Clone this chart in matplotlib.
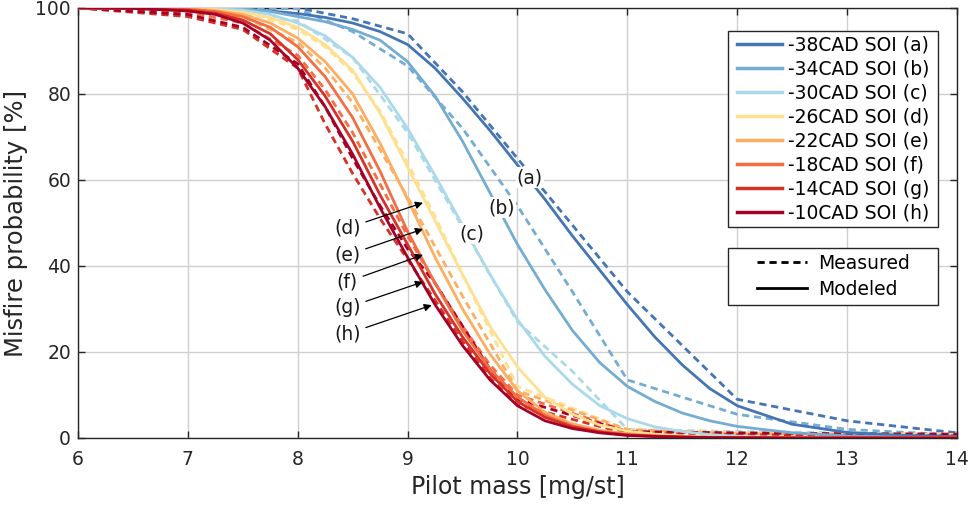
import matplotlib
matplotlib.use("Agg")
import matplotlib.pyplot as plt
from matplotlib.lines import Line2D
from matplotlib.patches import Rectangle

plt.rcParams['font.family'] = ['DejaVu Sans']

# ---------------- data ----------------
series_labels = ['-38CAD SOI (a)', '-34CAD SOI (b)', '-30CAD SOI (c)', '-26CAD SOI (d)',
                 '-22CAD SOI (e)', '-18CAD SOI (f)', '-14CAD SOI (g)', '-10CAD SOI (h)']
colors = ['#4575b4', '#74add1', '#abd9e9', '#fee090', '#fdae61', '#f46d43', '#d73027', '#a50026']

# modeled curves (solid)
model_mass = [6, 6.5, 7, 7.25, 7.5, 7.75, 8, 8.25, 8.5, 8.75, 9, 9.25, 9.5, 9.75, 10,
              10.25, 10.5, 10.75, 11, 11.25, 11.5, 11.75, 12, 12.5, 13, 13.5, 14]
model_a = [100, 100, 100, 99.9, 99.7, 99.3, 98.7, 97.8, 96.5, 94.5, 91.5, 86, 79, 71.5, 63.5,
           55.5, 47, 39, 31, 23.5, 17, 11.5, 7.5, 3.2, 1.3, 0.6, 0.3]
model_b = [100, 100, 100, 99.9, 99.8, 99.2, 98, 96.8, 95, 92.5, 87.5, 79.5, 69, 57, 45,
           34.5, 25, 17.5, 12, 8.5, 5.8, 4, 2.7, 1.2, 0.5, 0.2, 0.1]
model_c = [100, 100, 100, 99.8, 99.5, 98.5, 96.5, 93.5, 88.5, 81.5, 72, 61, 49.5, 38, 27.5,
           19, 12.5, 7.5, 4.5, 2.6, 1.5, 0.8, 0.4, 0.1, 0.02, 0, 0]
model_d = [100, 100, 99.9, 99.6, 99, 97.8, 95.5, 91.5, 85.5, 75.5, 63, 50.5, 38, 26, 16.5,
           9.5, 5.5, 3, 1.6, 0.9, 0.5, 0.25, 0.12, 0.03, 0, 0, 0]
model_e = [100, 100, 99.8, 99.4, 98.5, 96.5, 93, 87.5, 80, 68.5, 55.5, 42, 30, 19.5, 11,
           6, 3.3, 1.8, 1, 0.55, 0.3, 0.15, 0.08, 0.02, 0, 0, 0]
model_f = [100, 100, 99.7, 99.2, 98, 95.5, 91, 84, 74.5, 62, 48, 36, 25, 16, 9.5,
           5.3, 2.8, 1.5, 0.8, 0.45, 0.25, 0.12, 0.06, 0, 0, 0, 0]
model_g = [100, 99.9, 99.5, 98.8, 97.2, 94, 88, 79.5, 69, 56.5, 45, 33.5, 23.5, 15, 8.5,
           4.8, 2.6, 1.4, 0.7, 0.4, 0.2, 0.1, 0.05, 0, 0, 0, 0]
model_h = [100, 99.9, 99.3, 98.5, 96.5, 92.5, 86, 77, 66, 53.5, 42, 31, 21.5, 13.5, 7.5,
           4, 2.2, 1.2, 0.6, 0.35, 0.2, 0.1, 0.05, 0, 0, 0, 0]

# measured curves (dashed)
meas_mass_coarse = [6, 7, 8, 8.5, 9, 9.5, 10, 10.5, 11, 12, 13, 14]
meas_a = [100, 100, 100, 97.5, 94, 80.5, 65, 49.5, 34, 9, 4, 1.2]
meas_b = [100, 100, 99.8, 94.5, 86.5, 72, 54, 34, 13.5, 5.5, 2, 0.7]
meas_c = [100, 100, 97, 88.5, 71, 49, 27, 15.5, 2, 1.5, 1.2, 0.8]

meas_mass_fine = [6, 7, 7.5, 8, 8.25, 8.5, 8.75, 9, 9.25, 9.5, 9.75, 10, 11, 12, 13, 14]
meas_d = [100, 100, 99.5, 95, 91, 85, 76, 64, 51.5, 38, 25, 12, 1.9, 1.2, 1.0, 0.8]
meas_e = [100, 99.5, 98, 92, 86, 78, 67, 56, 44.5, 33, 22, 11, 2, 1, 0.8, 0.6]
meas_f = [100, 99, 96.5, 89, 81, 71, 59, 47, 36, 26, 17, 10, 1.5, 0.8, 0.6, 0.5]
meas_g = [100, 98, 95, 86, 73, 61.5, 51, 41.5, 32, 22.5, 14, 7.7, 1, 0.7, 0.6, 0.5]
meas_h = [100, 98.5, 95.5, 87, 77, 65, 54, 44, 36, 26, 16, 9, 1.5, 1.2, 1, 0.9]

model_series = [model_a, model_b, model_c, model_d, model_e, model_f, model_g, model_h]
meas_series = [(meas_mass_coarse, meas_a), (meas_mass_coarse, meas_b), (meas_mass_coarse, meas_c),
               (meas_mass_fine, meas_d), (meas_mass_fine, meas_e), (meas_mass_fine, meas_f),
               (meas_mass_fine, meas_g), (meas_mass_fine, meas_h)]

# annotation labels
inline_labels = ['(a)', '(b)', '(c)']
inline_pos = [(10.11, 60.5), (9.86, 53.5), (9.58, 47.5)]
arrow_labels = ['(d)', '(e)', '(f)', '(g)', '(h)']
arrow_text_pos = [(8.45, 48.8), (8.45, 42.5), (8.45, 36.3), (8.45, 30.3), (8.45, 24.2)]
arrow_head_pos = [(9.14, 54.7), (9.14, 48.6), (9.14, 42.6), (9.14, 36.3), (9.22, 30.9)]

# ---------------- plot ----------------
fig = plt.figure(figsize=(9.76, 5.08), dpi=100)
ax = fig.add_axes([0.0799, 0.1378, 0.9006, 0.8465])

lw = 2.0
dash = (0, (2.6, 1.7))
for (mx, my), col in zip(meas_series, colors):
    ax.plot(mx, my, color=col, lw=lw, linestyle=dash, zorder=3)
for my, col in zip(model_series, colors):
    ax.plot(model_mass, my, color=col, lw=lw, linestyle='-', zorder=3,
            solid_joinstyle='round')

ax.set_xlim(6, 14)
ax.set_ylim(0, 100)
ax.set_xticks(range(6, 15))
ax.set_yticks(range(0, 101, 20))
ax.grid(True, color='#d0d0d0', lw=1.0)
ax.set_axisbelow(True)
ax.tick_params(direction='in', length=5, width=1, top=True, right=True,
               labelsize=13.5, colors='#262626')
ax.tick_params(axis='x', pad=9)
ax.tick_params(axis='y', pad=5)
for sp in ax.spines.values():
    sp.set_color('#262626')
    sp.set_linewidth(1.0)

ax.set_xlabel('Pilot mass [mg/st]', fontsize=17, color='#262626', labelpad=4)
ax.set_ylabel('Misfire probability [%]', fontsize=17.5, color='#262626', labelpad=5)

for lab, (x, y) in zip(inline_labels, inline_pos):
    ax.text(x, y, lab, fontsize=13.5, ha='center', va='center', zorder=5, color='#1a1a1a',
            bbox=dict(boxstyle='square,pad=0.05', fc='white', ec='none'))

for lab, (tx, ty), (hx, hy) in zip(arrow_labels, arrow_text_pos, arrow_head_pos):
    ax.annotate(lab, xy=(hx, hy), xytext=(tx, ty), fontsize=13.5, ha='center', va='center',
                color='#1a1a1a', zorder=6,
                arrowprops=dict(arrowstyle='-|>', color='black', lw=0.9, mutation_scale=11,
                                shrinkA=2, shrinkB=0))

# legend 1: colours (frame drawn as a rectangle)
frame1 = Rectangle((0.7395, 0.4907), 0.2389, 0.4558, transform=ax.transAxes, fc='white',
                   ec='#262626', lw=1.0, zorder=4)
ax.add_patch(frame1)
handles = [Line2D([], [], color=c, lw=2.5) for c in colors]
leg1 = ax.legend(handles, series_labels, loc='center', bbox_to_anchor=(0.8595, 0.7186),
                 fontsize=13.5, handlelength=2.4, handletextpad=0.3,
                 labelspacing=0.27, borderpad=0.0, frameon=False)
leg1.set_zorder(6)
ax.add_artist(leg1)

# legend 2: line types
frame2 = Rectangle((0.7395, 0.3093), 0.2389, 0.1326, transform=ax.transAxes, fc='white',
                   ec='#262626', lw=1.0, zorder=4)
ax.add_patch(frame2)
h2 = [Line2D([], [], color='black', lw=2, linestyle=dash),
      Line2D([], [], color='black', lw=2, linestyle='-')]
leg2 = ax.legend(h2, ['Measured', 'Modeled'], loc='center', bbox_to_anchor=(0.8595, 0.3756),
                 fontsize=13.5, handlelength=2.7, handletextpad=0.6, labelspacing=0.38,
                 borderpad=0.0, frameon=False)
leg2.set_zorder(6)

fig.savefig('out.png', dpi=100)
